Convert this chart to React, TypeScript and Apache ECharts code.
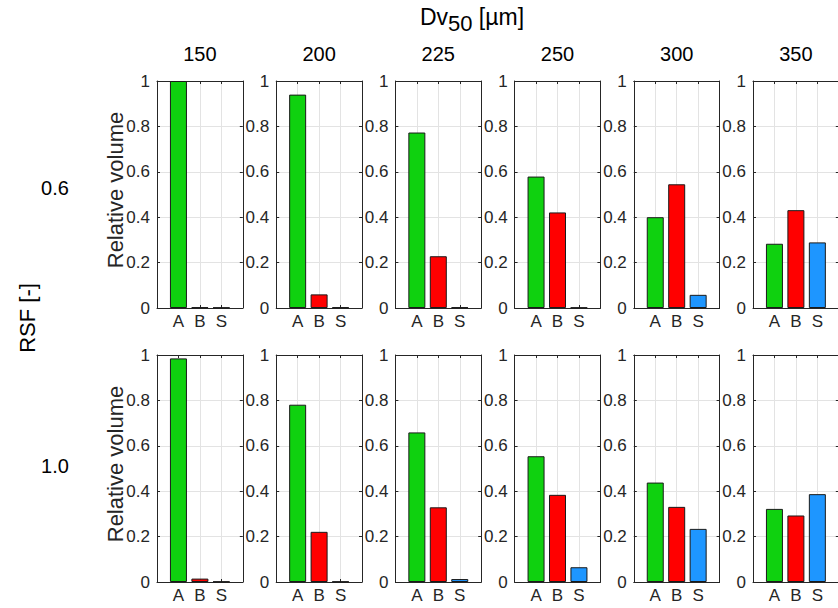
import React, { useEffect, useRef } from 'react';
import * as echarts from 'echarts';

// ---- data ----
const categories = ['A', 'B', 'S'];
const dv50Labels = ['150', '200', '225', '250', '300', '350'];
const rsfLabels = ['0.6', '1.0'];

// RSF = 0.6
const volA_rsf06 = [1.0, 0.94, 0.773, 0.579, 0.4, 0.283];
const volB_rsf06 = [0.003, 0.06, 0.228, 0.421, 0.545, 0.431];
const volS_rsf06 = [0.002, 0.003, 0.003, 0.002, 0.058, 0.289];
// RSF = 1.0
const volA_rsf10 = [0.985, 0.781, 0.659, 0.554, 0.438, 0.322];
const volB_rsf10 = [0.015, 0.221, 0.329, 0.384, 0.331, 0.293];
const volS_rsf10 = [0.002, 0.002, 0.013, 0.065, 0.234, 0.387];

const yTicks = [0, 0.2, 0.4, 0.6, 0.8, 1];

// ---- styling ----
const FONT = '"Liberation Sans", Arial, Helvetica, sans-serif';
const AXIS_COLOR = '#262626';
const GRID_COLOR = '#e3e3e3';
const BAR_COLORS = ['#0fd10f', '#ff0000', '#1e96ff'];
const PANEL_LEFT = 157;
const PANEL_STEP = 119.2;
const PANEL_W = 85.8;
const ROW_TOPS = [81, 355];
const PANEL_H = 227;

function buildOption() {
  const rows = [
    [volA_rsf06, volB_rsf06, volS_rsf06],
    [volA_rsf10, volB_rsf10, volS_rsf10],
  ];
  const grids: any[] = [];
  const xAxes: any[] = [];
  const yAxes: any[] = [];
  const series: any[] = [];

  const tick = { show: true, inside: true, length: 3, lineStyle: { color: AXIS_COLOR, width: 1 } };
  const line = { show: true, onZero: false, lineStyle: { color: AXIS_COLOR, width: 1 } };
  const split = { show: true, showMinLine: false, showMaxLine: false, lineStyle: { color: GRID_COLOR, width: 1 } };

  rows.forEach((vals, r) => {
    dv50Labels.forEach((_, c) => {
      const g = grids.length;
      grids.push({
        left: PANEL_LEFT + c * PANEL_STEP,
        top: ROW_TOPS[r],
        width: PANEL_W,
        height: PANEL_H,
        containLabel: false,
        outerBoundsMode: 'none',
      });
      xAxes.push({
        gridIndex: g,
        type: 'value',
        position: 'bottom',
        min: 0,
        max: categories.length + 1,
        interval: 1,
        axisLine: line,
        axisTick: tick,
        splitLine: split,
        axisLabel: {
          show: true,
          margin: 5,
          fontSize: 17,
          fontWeight: 'normal',
          color: AXIS_COLOR,
          fontFamily: FONT,
          formatter: (v: number) => categories[Math.round(v) - 1] ?? '',
        },
      });
      xAxes.push({
        gridIndex: g,
        type: 'value',
        position: 'top',
        min: 0,
        max: categories.length + 1,
        interval: 1,
        axisLine: line,
        axisTick: tick,
        splitLine: { show: false },
        axisLabel: { show: false },
      });
      yAxes.push({
        gridIndex: g,
        type: 'value',
        position: 'left',
        min: yTicks[0],
        max: yTicks[yTicks.length - 1],
        interval: 0.2,
        axisLine: line,
        axisTick: tick,
        splitLine: split,
        axisLabel: {
          show: true,
          margin: 7,
          fontSize: 17,
          fontWeight: 'normal',
          color: AXIS_COLOR,
          fontFamily: FONT,
          formatter: (v: number) => {
            const rv = Math.round(v * 10) / 10;
            return rv === 0 ? '0' : rv === 1 ? '1' : String(rv);
          },
        },
      });
      yAxes.push({
        gridIndex: g,
        type: 'value',
        position: 'right',
        min: yTicks[0],
        max: yTicks[yTicks.length - 1],
        interval: 0.2,
        axisLine: line,
        axisTick: tick,
        splitLine: { show: false },
        axisLabel: { show: false },
      });
      series.push({
        type: 'bar',
        xAxisIndex: 2 * g,
        yAxisIndex: 2 * g,
        barWidth: 17,
        silent: true,
        itemStyle: { borderColor: '#1a1a1a', borderWidth: 1 },
        data: categories.map((cat, k) => ({
          name: cat,
          value: [k + 1, vals[k][c]],
          itemStyle: { color: BAR_COLORS[k] },
        })),
      });
    });
  });

  const graphic: any[] = [];
  graphic.push({
    type: 'text',
    x: 472,
    y: 5,
    style: {
      text: '{a|Dv}{s|50}{a| [µm]}',
      align: 'center',
      verticalAlign: 'top',
      fill: '#000',
      fontFamily: FONT,
      fontSize: 23,
      fontWeight: 'normal',
      rich: {
        a: { fontSize: 23, fontFamily: FONT, fontWeight: 'normal', fill: '#000', verticalAlign: 'top' },
        s: { fontSize: 22, fontFamily: FONT, fontWeight: 'normal', fill: '#000', verticalAlign: 'top', padding: [7, 0, 0, 0] },
      },
    },
  });
  dv50Labels.forEach((t, c) => {
    graphic.push({
      type: 'text',
      x: PANEL_LEFT + c * PANEL_STEP + PANEL_W / 2,
      y: 54,
      style: { text: t, align: 'center', verticalAlign: 'middle', fill: '#000', fontSize: 20, fontWeight: 'normal', fontFamily: FONT },
    });
  });
  const rowLabelY = [188, 466];
  const ylabelY = [190, 464];
  rsfLabels.forEach((t, r) => {
    graphic.push({
      type: 'text',
      x: 55,
      y: rowLabelY[r],
      style: { text: t, align: 'center', verticalAlign: 'middle', fill: '#000', fontSize: 20, fontWeight: 'normal', fontFamily: FONT },
    });
    graphic.push({
      type: 'text',
      x: 115,
      y: ylabelY[r],
      rotation: Math.PI / 2,
      style: { text: 'Relative volume', align: 'center', verticalAlign: 'middle', fill: AXIS_COLOR, fontSize: 22, fontWeight: 'normal', fontFamily: FONT },
    });
  });
  graphic.push({
    type: 'text',
    x: 27,
    y: 318,
    rotation: Math.PI / 2,
    style: { text: 'RSF [-]', align: 'center', verticalAlign: 'middle', fill: '#000', fontSize: 22, fontWeight: 'normal', fontFamily: FONT },
  });

  return {
    animation: false,
    backgroundColor: '#ffffff',
    textStyle: { fontFamily: FONT, fontWeight: 'normal' },
    grid: grids,
    xAxis: xAxes,
    yAxis: yAxes,
    series,
    graphic,
  };
}

export default function App() {
  const ref = useRef<HTMLDivElement>(null);
  useEffect(() => {
    if (!ref.current) return;
    const chart = echarts.init(ref.current, null, { renderer: 'svg' });
    chart.setOption(buildOption() as any);
    return () => chart.dispose();
  }, []);
  return (
    <div
      ref={ref}
      style={{ position: 'fixed', left: 0, top: 0, width: 838, height: 608, background: '#fff' }}
    />
  );
}
